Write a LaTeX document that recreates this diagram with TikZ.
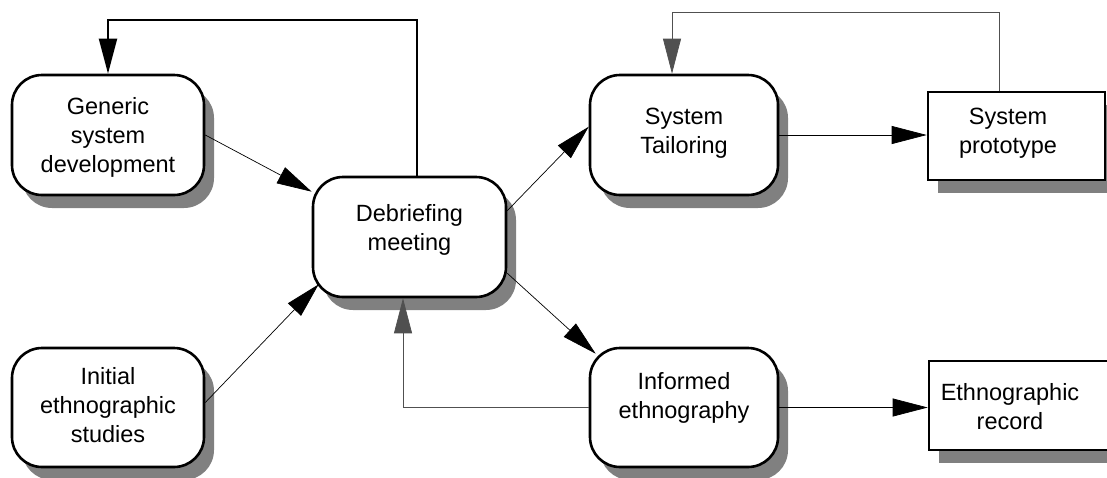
\documentclass[tikz,border=0pt]{standalone}
\usepackage{fontspec}
\setmainfont{Liberation Sans}
\usetikzlibrary{arrows.meta,shadows}
\definecolor{shadowgray}{HTML}{808080}
\definecolor{linegray}{HTML}{505050}
\begin{document}
\begin{tikzpicture}[x=1pt, y=-1pt, font=\fontsize{23.5}{29}\selectfont,
    box/.style = {draw, line width=2.6pt, fill=white,
        drop shadow={shadow xshift=10pt, shadow yshift=-13pt, fill=shadowgray, opacity=1}},
    softbox/.style = {box, rounded corners=30pt},
    txt/.style = {align=center, inner sep=0pt},
    tip/.style = {-{Triangle[length=35pt 0, width=18pt 0]}},
    flow/.style = {tip, line width=0.7pt},
    back/.style = {tip, line width=0.7pt, draw=linegray}]
    \useasboundingbox (0,0) rectangle (1107,477);
    % boxes
    \node[softbox, minimum width=192pt, minimum height=120pt] (generic) at (108,135) {};
    \node[softbox, minimum width=192pt, minimum height=119pt] (initial) at (108,407.5) {};
    \node[softbox, minimum width=193pt, minimum height=120pt] (debrief) at (409.5,237) {};
    \node[softbox, minimum width=188pt, minimum height=120pt] (tailor) at (684,135) {};
    \node[softbox, minimum width=188pt, minimum height=119pt] (informed) at (684,407.5) {};
    \node[box, minimum width=177pt, minimum height=88pt] (proto) at (1016.5,136) {};
    \node[box, minimum width=179pt, minimum height=89pt] (record) at (1018.5,405.5) {};
    % texts
    \node[txt] (generictxt) at (108,137) {Generic\\system\\development};
    \node[txt] (initialtxt) at (108,405) {Initial\\ethnographic\\studies};
    \node[txt] (debrieftxt) at (409.5,230) {Debriefing\\meeting};
    \node[txt] (tailortxt) at (684,133) {System\\Tailoring};
    \node[txt] (informedtxt) at (684,398) {Informed\\ethnography};
    \node[txt] (prototxt) at (1008,133) {System\\prototype};
    \node[txt] (recordtxt) at (1010,407) {Ethnographic\\record};
    % connectors
    \draw[flow] (generic.east) -- ([yshift=-16pt]debrief.north west);
    \draw[flow] ([yshift=5pt]initial.east) -- ([xshift=7pt,yshift=14pt]debrief.south west);
    \draw[flow] ([yshift=-35pt]debrief.north east) -- ([yshift=-53pt]tailor.north west);
    \draw[flow] ([yshift=25pt]debrief.south east) -- ([xshift=7pt,yshift=-7pt]informed.north west);
    \draw[flow] (tailor.east) -- (tailor.east -| proto.west);
    \draw[flow] (informed.east) -- (informed.east -| record.west);
    \draw[tip, line width=2pt] ([xshift=7.5pt]debrief.north) -- ++(0,-156) -| (generic.north);
    \draw[back] ([xshift=-17.5pt]proto.north) -- ++(0,-78) -| ([xshift=-12pt]tailor.north);
    \draw[back] (informed.west) -| ([xshift=-6.5pt]debrief.south);
\end{tikzpicture}
\end{document}
